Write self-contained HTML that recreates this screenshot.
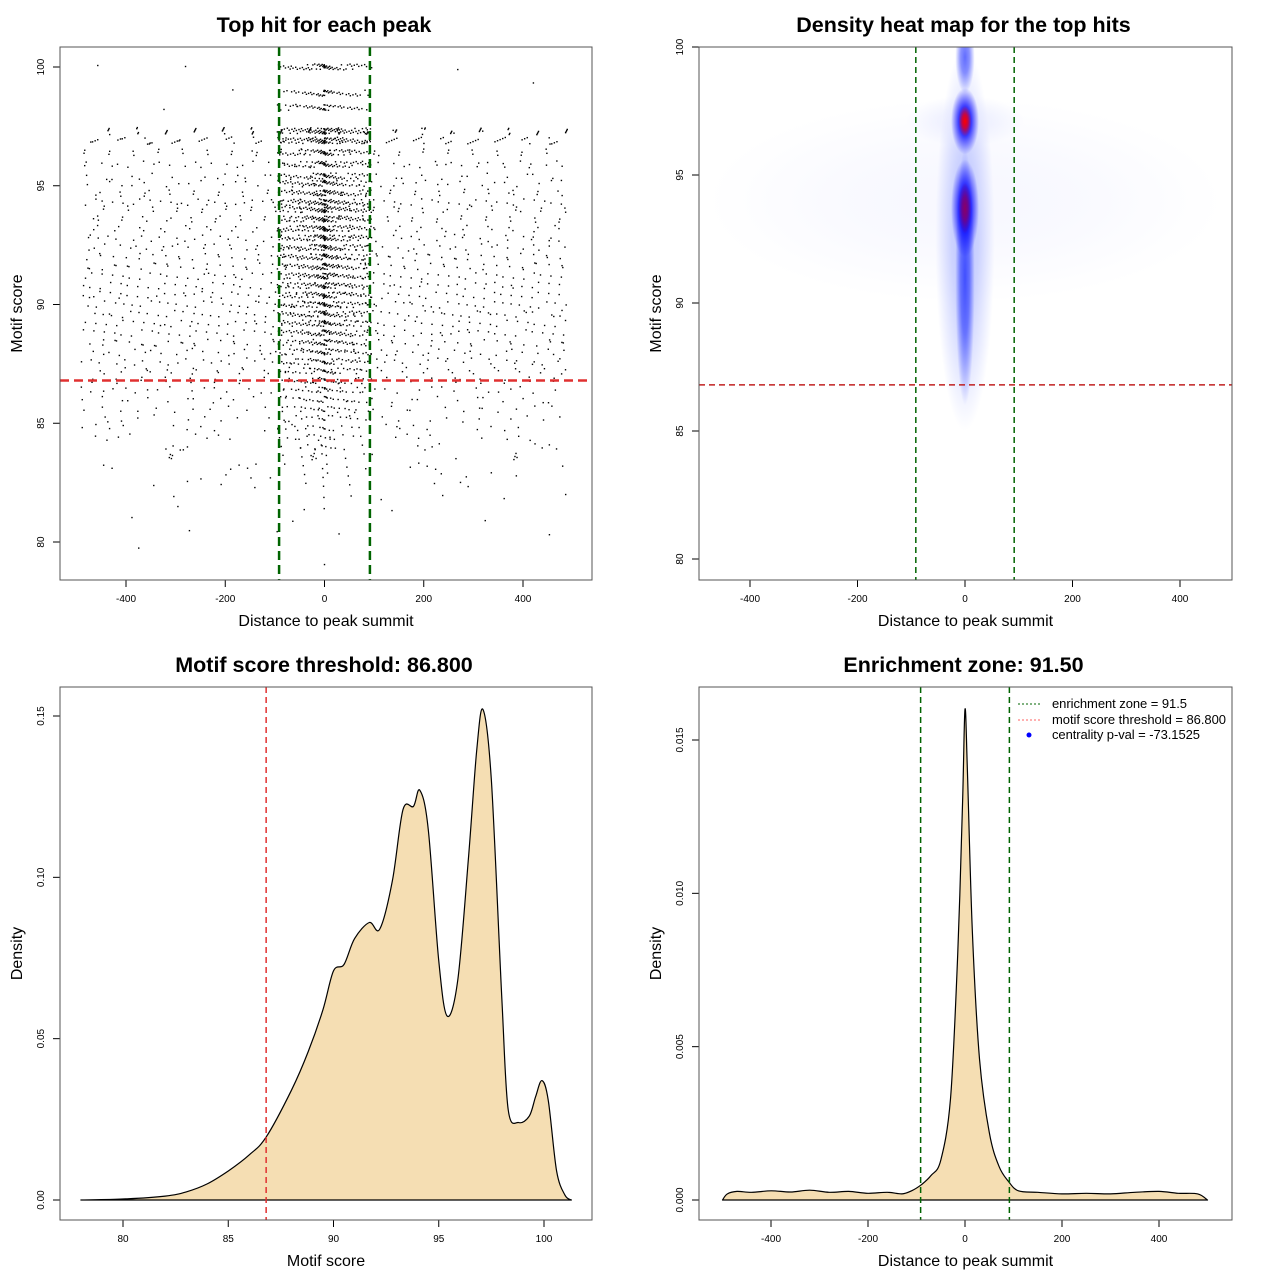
<!DOCTYPE html>
<html><head><meta charset="utf-8"><style>
body{margin:0;background:#fff;}
svg{display:block;font-family:"Liberation Sans",sans-serif;}
</style></head><body>
<svg id="fig" width="1280" height="1280" viewBox="0 0 1280 1280" xmlns="http://www.w3.org/2000/svg">
<defs>
<clipPath id="clip2"><rect x="699" y="47" width="533" height="533"/></clipPath>
</defs>
<g id="root"></g>
</svg>
<script>
// ---- Panel 1 scatter data: score levels, outer count, central count ----
const scatterLevels=[79.2,79.8,80.4,80.9,81.4,81.9,82.4,82.8,83.2,83.6,84.0,84.4,84.8,85.2,85.6,86.0,86.4,86.8,87.2,87.6,88.0,88.4,88.8,89.2,89.6,90.0,90.4,90.8,91.2,91.6,92.0,92.4,92.8,93.2,93.6,94.0,94.3,94.7,95.1,95.4,95.9,96.4,96.9,97.3,98.3,98.9,99.4,100.0];
const scatterOuter=[1,1,3,2,3,5,7,8,11,14,17,20,22,25,28,31,36,42,45,48,50,53,56,56,59,59,56,56,56,53,53,50,48,45,42,42,56,42,36,31,50,42,80,75,2,1,1,3];
const scatterCentral=[0,0,1,1,1,2,3,4,6,7,9,12,14,16,19,21,26,30,35,40,44,48,53,56,58,60,60,62,63,64,66,68,70,72,72,70,68,64,58,53,56,60,80,82,46,46,0,62];
// ---- Panel 2 heat blobs (data units) ----
const heatBlobX=[0,0,0,0,0,0,0,0,0];
const heatBlobScore=[92.5,91,99.6,97.1,97.1,93.7,97.1,93.7,94];
const heatBlobRx=[55,18,18,110,26,26,12,12,480];
const heatBlobRy=[7.5,5,1.4,1.0,1.3,1.9,0.6,1.0,4];
const heatBlobColor=["#8090ff","#2030ff","#2030ff","#e2e5ff","#0000ff","#0000ff","#ff0000","#900060","#eff0ff"];
const heatBlobOpacity=[0.5,0.8,0.7,0.6,1,1,1,0.95,0.5];
// ---- Panel 3 density of motif score ----
const scoreX=[78,80,82,83,84,85,86,86.8,88,88.8,89.5,90,90.5,91,91.7,92.2,92.8,93.3,93.8,94.1,94.5,95,95.4,95.9,96.4,96.8,97.1,97.5,98,98.3,98.8,99.3,99.6,99.9,100.2,100.6,101,101.3];
const scoreDensity=[0,0.0003,0.0012,0.0025,0.005,0.009,0.014,0.0195,0.034,0.046,0.059,0.071,0.073,0.081,0.086,0.084,0.099,0.121,0.122,0.127,0.115,0.074,0.057,0.068,0.105,0.139,0.152,0.130,0.062,0.028,0.024,0.026,0.032,0.037,0.031,0.009,0.0015,0];
// ---- Panel 4 density of distance ----
const distX=[-500,-490,-470,-440,-400,-360,-320,-280,-240,-200,-160,-130,-110,-90,-70,-50,-30,-15,-5,0,5,15,30,50,70,90,110,150,200,250,300,350,400,440,480,500];
const distDensity=[0,0.0002,0.00028,0.00025,0.0003,0.00026,0.00032,0.00025,0.00028,0.00022,0.00025,0.0002,0.0003,0.0005,0.0008,0.0013,0.0033,0.008,0.013,0.016,0.014,0.0088,0.0046,0.0022,0.0011,0.0006,0.0003,0.00025,0.0002,0.00022,0.0002,0.00025,0.00028,0.00022,0.0002,0];

const NS="http://www.w3.org/2000/svg";
const root=document.getElementById('root');
const defs=document.querySelector('defs');
function mk(tag,attrs,parent,text){const e=document.createElementNS(NS,tag);for(const k in attrs)e.setAttribute(k,attrs[k]);if(text!==undefined)e.textContent=text;(parent||root).appendChild(e);return e;}
function lin(d0,d1,r0,r1){return v=>r0+(v-d0)*(r1-r0)/(d1-d0);}
function smooth(P){let d='';for(let i=0;i<P.length-1;i++){const p0=P[Math.max(0,i-1)],p1=P[i],p2=P[i+1],p3=P[Math.min(P.length-1,i+2)];
  const c1x=p1[0]+(p2[0]-p0[0])/6,c1y=p1[1]+(p2[1]-p0[1])/6,c2x=p2[0]-(p3[0]-p1[0])/6,c2y=p2[1]-(p3[1]-p1[1])/6;
  d+=` C${c1x.toFixed(1)},${c1y.toFixed(1)} ${c2x.toFixed(1)},${c2y.toFixed(1)} ${p2[0].toFixed(1)},${p2[1].toFixed(1)}`;}return d;}

function panel(name,box,title,xlab,ylab,xs,ys,xt,yt,ytFmt){
  const g=mk('g',{});
  
  
  const t=mk('text',{x:(box[0]+box[2])/2-2,y:box[1]-15,'text-anchor':'middle','font-size':'21.5','font-weight':'bold'},g,title);
  
  const xl=mk('text',{x:(box[0]+box[2])/2,y:box[3]+46,'text-anchor':'middle','font-size':'16'},g,xlab);
  
  const yl=mk('text',{x:0,y:0,'text-anchor':'middle','font-size':'16',transform:`translate(${box[0]-38},${(box[1]+box[3])/2}) rotate(-90)`},g,ylab);
  
  const xa=mk('g',{},g);
  xt.forEach(v=>{const x=xs(v);mk('line',{x1:x,x2:x,y1:box[3],y2:box[3]+7,stroke:'#000'},xa);
    mk('text',{x:x,y:box[3]+22,'text-anchor':'middle','font-size':'10'},xa,String(v));});
  const ya=mk('g',{},g);
  yt.forEach(v=>{const y=ys(v);mk('line',{x1:box[0]-7,x2:box[0],y1:y,y2:y,stroke:'#000'},ya);
    mk('text',{x:0,y:0,'text-anchor':'middle','font-size':'10',transform:`translate(${box[0]-16},${y}) rotate(-90)`},ya,ytFmt?ytFmt(v):String(v));});
  return g;
}
function frame(g,box){mk('rect',{x:box[0],y:box[1],width:box[2]-box[0],height:box[3]-box[1],fill:'none',stroke:'#555','stroke-width':1},g);}
function frac(v){return v-Math.floor(v);}

// ===== Panel 1 =====
{const box=[60,47,592,580];
 const xs=lin(-400,400,126,523), ys=lin(80,100,542,67);
 const g=panel('scatter-panel',box,'Top hit for each peak','Distance to peak summit','Motif score',xs,ys,[-400,-200,0,200,400],[80,85,90,95,100]);
 const pts=mk('g',{fill:'#000'},g);
 const phi=0.6180339887;
 scatterLevels.forEach((s,i)=>{
   const no=scatterOuter[i], nc=scatterCentral[i];
   for(let k=0;k<no;k++){const f=frac((k+0.5)/no+i*phi+0.3*frac(k*0.7548)); const x=-490+f*980; const dy=(frac(k*0.5698+i*0.31)-0.5)*0.3;
     mk('rect',{x:xs(x)-0.7,y:ys(s+dy)-0.7,width:1.4,height:1.4},pts);}
   for(let k=0;k<nc;k++){const u=frac(k*phi+i*0.37); const z=(u-0.5)*2; const x=Math.sign(z)*Math.pow(Math.abs(z),1.6)*95; const dy=(frac(k*0.7548+i*0.13)-0.5)*0.25;
     mk('rect',{x:xs(x)-0.7,y:ys(s+dy)-0.7,width:1.4,height:1.4},pts);}
 });
 const gl=mk('g',{stroke:'#006400','stroke-width':2.5,'stroke-dasharray':'9,5'},g);
 [-91.5,91.5].forEach(v=>mk('line',{x1:xs(v),x2:xs(v),y1:box[1],y2:box[3]},gl));
 const rl=mk('line',{x1:box[0],x2:box[2],y1:ys(86.8),y2:ys(86.8),stroke:'#e03030','stroke-width':2.5,'stroke-dasharray':'9,5'},g);
 
 frame(g,box);}

// ===== Panel 2 =====
{const box=[699,47,1232,580];
 const xs=lin(-400,400,750,1180), ys=lin(80,100,559,47);
 const g=panel('heatmap-panel',box,'Density heat map for the top hits','Distance to peak summit','Motif score',xs,ys,[-400,-200,0,200,400],[80,85,90,95,100]);
 const hm=mk('g',{'clip-path':'url(#clip2)'},g);
 const order=[8,0,3,1,2,4,5,6,7];
 order.forEach(i=>{
   const gid='hg'+i;
   const rg=mk('radialGradient',{id:gid},defs);
   mk('stop',{offset:'0','stop-color':heatBlobColor[i],'stop-opacity':heatBlobOpacity[i]},rg);
   mk('stop',{offset:'0.45','stop-color':heatBlobColor[i],'stop-opacity':heatBlobOpacity[i]*0.75},rg);
   mk('stop',{offset:'1','stop-color':heatBlobColor[i],'stop-opacity':0},rg);
   mk('ellipse',{cx:xs(heatBlobX[i]),cy:ys(heatBlobScore[i]),rx:xs(heatBlobRx[i])-xs(0),ry:ys(0)-ys(heatBlobRy[i]),fill:`url(#${gid})`},hm);
 });
 const gl=mk('g',{stroke:'#006400','stroke-width':1.5,'stroke-dasharray':'6,4'},g);
 [-91.5,91.5].forEach(v=>mk('line',{x1:xs(v),x2:xs(v),y1:box[1],y2:box[3]},gl));
 const rl=mk('line',{x1:box[0],x2:box[2],y1:ys(86.8),y2:ys(86.8),stroke:'#c02020','stroke-width':1.5,'stroke-dasharray':'6,4'},g);
 
 frame(g,box);}

// ===== Panel 3 =====
{const box=[60,687,592,1220];
 const xs=lin(80,100,123,544), ys=lin(0,0.15,1200,716);
 const g=panel('score-density-panel',box,'Motif score threshold: 86.800','Motif score','Density',xs,ys,[80,85,90,95,100],[0,0.05,0.10,0.15],v=>v.toFixed(2));
 const P=scoreX.map((x,i)=>[xs(x),ys(scoreDensity[i])]);
 const d='M'+P[0][0]+','+P[0][1]+smooth(P)+' Z';
 const c=mk('path',{d:d,fill:'#f5deb3',stroke:'#000','stroke-width':1.2,'stroke-linejoin':'round'},g);
 
 const rl=mk('line',{x1:xs(86.8),x2:xs(86.8),y1:box[1],y2:box[3],stroke:'#e03030','stroke-width':1.5,'stroke-dasharray':'6,4'},g);
 
 frame(g,box);}

// ===== Panel 4 =====
{const box=[699,687,1232,1220];
 const xs=lin(-400,400,771,1159), ys=lin(0,0.015,1200,740);
 const g=panel('distance-density-panel',box,'Enrichment zone: 91.50','Distance to peak summit','Density',xs,ys,[-400,-200,0,200,400],[0,0.005,0.010,0.015],v=>v.toFixed(3));
 const P=distX.map((x,i)=>[xs(x),ys(distDensity[i])]);
 const d='M'+P[0][0]+','+P[0][1]+smooth(P)+' Z';
 const c=mk('path',{d:d,fill:'#f5deb3',stroke:'#000','stroke-width':1.2,'stroke-linejoin':'round'},g);
 
 const gl=mk('g',{stroke:'#006400','stroke-width':1.5,'stroke-dasharray':'6,4'},g);
 [-91.5,91.5].forEach(v=>mk('line',{x1:xs(v),x2:xs(v),y1:box[1],y2:box[3]},gl));
 const lg=mk('g',{'font-size':'13'},g);
 const e1=mk('g',{},lg);
 mk('line',{x1:1018,x2:1042,y1:704,y2:704,stroke:'#006400','stroke-dasharray':'2,2'},e1);mk('text',{x:1052,y:708,textLength:135},e1,'enrichment zone = 91.5');
 const e2=mk('g',{},lg);
 mk('line',{x1:1018,x2:1042,y1:720,y2:720,stroke:'#ff6060','stroke-dasharray':'2,2'},e2);mk('text',{x:1052,y:724,textLength:174},e2,'motif score threshold = 86.800');
 const e3=mk('g',{},lg);
 mk('circle',{cx:1029,cy:735,r:2.5,fill:'#0000ff'},e3);mk('text',{x:1052,y:739,textLength:148},e3,'centrality p-val = -73.1525');
 frame(g,box);}
</script>
</body></html>
